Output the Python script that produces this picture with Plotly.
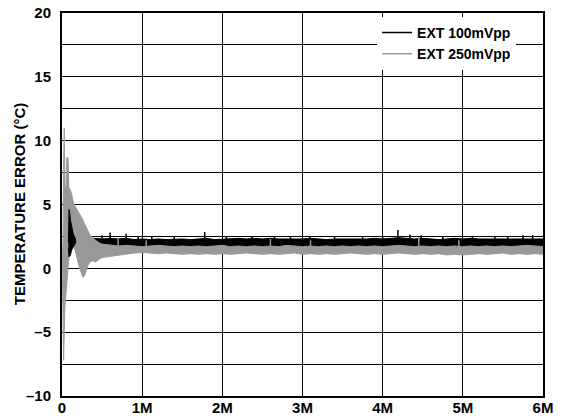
import plotly.graph_objects as go

# ---------------- data ----------------
# x in units of samples (M = 1e6)
x_ticks = [0, 1, 2, 3, 4, 5, 6]
x_tick_labels = ["0", "1M", "2M", "3M", "4M", "5M", "6M"]
y_ticks = [-10, -7.5, -5, -2.5, 0, 2.5, 5, 7.5, 10, 12.5, 15, 17.5, 20]
y_tick_labels = ["–10", "", "–5", "", "0", "", "5", "", "10", "", "15", "", "20"]

# EXT 250mVpp (gray) : envelope of the noisy trace
gray_x = [0.000, 0.012, 0.020, 0.028, 0.036, 0.048, 0.060, 0.075, 0.085, 0.10,
          0.12, 0.14, 0.16, 0.18, 0.20, 0.22, 0.24, 0.26, 0.28, 0.30,
          0.32, 0.35, 0.38, 0.42, 0.46, 0.50,
          0.6, 0.7, 0.8, 0.9, 1.0, 1.1, 1.2, 1.3, 1.4, 1.5,
          1.6, 1.7, 1.8, 1.9, 2.0, 2.1, 2.2, 2.3, 2.4, 2.5,
          2.6, 2.7, 2.8, 2.9, 3.0, 3.1, 3.2, 3.3, 3.4, 3.5,
          3.6, 3.7, 3.8, 3.9, 4.0, 4.1, 4.2, 4.3, 4.4, 4.5,
          4.6, 4.7, 4.8, 4.9, 5.0, 5.1, 5.2, 5.3, 5.4, 5.5,
          5.6, 5.7, 5.8, 5.9, 6.0]
gray_hi = [0.5, 2.0, 8.0, 11.0, 6.5, 6.0, 8.7, 8.6, 6.3, 6.2,
           5.8, 5.2, 4.9, 4.7, 4.5, 4.2, 4.0, 3.8, 3.5, 3.2,
           2.9, 2.6, 2.4, 2.2, 2.0, 1.9,
           1.8, 1.75, 1.8, 1.75, 1.7, 1.75, 1.8, 1.75, 1.7, 1.75,
           1.7, 1.75, 1.7, 1.75, 1.8, 1.7, 1.75, 1.7, 1.75, 1.7,
           1.75, 1.7, 1.8, 1.75, 1.7, 1.75, 1.7, 1.75, 1.7, 1.75,
           1.7, 1.75, 1.7, 1.75, 1.7, 1.75, 1.8, 1.75, 1.7, 1.75,
           1.7, 1.75, 1.7, 1.75, 1.7, 1.75, 1.7, 1.75, 1.7, 1.75,
           1.7, 1.75, 1.8, 1.75, 1.7]
gray_lo = [0.5, -3.0, -7.2, -5.0, -3.0, -2.0, -1.0, 0.0, 0.8, 1.5,
           2.0, 2.0, 1.6, 1.0, 0.5, 0.0, -0.4, -0.7, -0.6, -0.2,
           0.2, 0.5, 0.6, 0.5, 0.7, 0.85,
           0.95, 1.05, 1.1, 1.2, 1.25, 1.2, 1.15, 1.2, 1.15, 1.1,
           1.15, 1.1, 1.15, 1.1, 1.15, 1.1, 1.15, 1.2, 1.15, 1.1,
           1.15, 1.1, 1.15, 1.2, 1.1, 1.15, 1.1, 1.15, 1.1, 1.15,
           1.2, 1.15, 1.1, 1.15, 1.1, 1.15, 1.2, 1.15, 1.1, 1.15,
           1.1, 1.15, 1.05, 1.1, 1.05, 1.1, 1.15, 1.1, 1.15, 1.2,
           1.1, 1.15, 1.1, 1.15, 1.1]

# EXT 100mVpp (black) : start-up transient envelope
black_tr_x = [0.080, 0.088, 0.095, 0.105, 0.115, 0.125, 0.14, 0.16, 0.17]
black_tr_hi = [2.0, 4.6, 4.4, 3.8, 3.5, 3.0, 2.7, 2.4, 2.2]
black_tr_lo = [1.6, 0.9, 1.0, 1.0, 1.3, 1.5, 1.7, 1.9, 2.0]

# EXT 100mVpp (black) : settled band envelope
black_x = [0.35, 0.4, 0.5, 0.6, 0.7, 0.8, 0.9, 1.0, 1.1, 1.2, 1.3, 1.4, 1.5,
           1.6, 1.7, 1.8, 1.9, 2.0, 2.1, 2.2, 2.3, 2.4, 2.5,
           2.6, 2.7, 2.8, 2.9, 3.0, 3.1, 3.2, 3.3, 3.4, 3.5,
           3.6, 3.7, 3.8, 3.9, 4.0, 4.1, 4.2, 4.3, 4.4, 4.5,
           4.6, 4.7, 4.8, 4.9, 5.0, 5.1, 5.2, 5.3, 5.4, 5.5,
           5.6, 5.7, 5.8, 5.9, 6.0]
black_hi = [2.2, 2.35, 2.3, 2.35, 2.3, 2.35, 2.25, 2.3, 2.25, 2.3, 2.25, 2.3, 2.3,
            2.25, 2.3, 2.35, 2.25, 2.3, 2.3, 2.35, 2.3, 2.35, 2.3,
            2.35, 2.3, 2.3, 2.25, 2.3, 2.35, 2.3, 2.25, 2.3, 2.3,
            2.25, 2.3, 2.3, 2.35, 2.3, 2.35, 2.4, 2.35, 2.3, 2.35,
            2.3, 2.25, 2.3, 2.35, 2.3, 2.35, 2.3, 2.3, 2.35, 2.3,
            2.35, 2.3, 2.35, 2.35, 2.3]
black_lo = [1.6, 1.6, 1.65, 1.6, 1.65, 1.6, 1.65, 1.6, 1.65, 1.6, 1.65, 1.6, 1.65,
            1.6, 1.65, 1.6, 1.65, 1.6, 1.65, 1.6, 1.65, 1.6, 1.65,
            1.6, 1.65, 1.6, 1.65, 1.6, 1.65, 1.6, 1.65, 1.6, 1.65,
            1.6, 1.65, 1.6, 1.65, 1.6, 1.65, 1.6, 1.65, 1.6, 1.65,
            1.6, 1.65, 1.6, 1.65, 1.6, 1.65, 1.6, 1.65, 1.6, 1.65,
            1.6, 1.65, 1.6, 1.65, 1.6]

# black noise spikes (position, peak)
black_spike_x = [0.5, 0.6, 0.8, 0.95, 1.12, 1.4, 1.78, 2.05, 2.37, 2.65, 2.85,
                 3.09, 3.4, 3.75, 4.0, 4.19, 4.34, 4.48, 4.75, 5.12, 5.4, 5.56,
                 5.75, 5.87]
black_spike_y = [2.6, 2.8, 2.7, 2.5, 2.5, 2.45, 2.85, 2.5, 2.5, 2.5, 2.45,
                 2.5, 2.5, 2.45, 2.5, 3.0, 2.65, 2.6, 2.45, 2.55, 2.45, 2.5,
                 2.6, 2.6]
spike_base = 2.2

# gray noise spikes poking into the black band (position, peak)
gray_spike_x = [0.7, 1.05, 2.6, 3.1, 4.45, 4.95]
gray_spike_y = [2.3, 2.2, 2.3, 2.2, 2.45, 2.2]
gray_spike_base = 1.7

series_names = ["EXT 100mVpp", "EXT 250mVpp"]
BLACK = "#000000"
GRAY = "#999999"


def band(xs, hi, lo):
    return list(xs) + list(xs)[::-1], list(hi) + list(lo)[::-1]


def spikes(xs, ys, base):
    sx, sy = [], []
    for a, b in zip(xs, ys):
        sx += [a, a, None]
        sy += [base, b, None]
    return sx, sy


fig = go.Figure()

bx, by = band(black_x, black_hi, black_lo)
fig.add_trace(go.Scatter(x=bx, y=by, fill="toself", fillcolor=BLACK, mode="lines",
                         line=dict(color=BLACK, width=1), showlegend=False, hoverinfo="skip"))
sx, sy = spikes(black_spike_x, black_spike_y, spike_base)
fig.add_trace(go.Scatter(x=sx, y=sy, mode="lines", line=dict(color=BLACK, width=1.5),
                         showlegend=False, hoverinfo="skip"))

gx, gy = band(gray_x, gray_hi, gray_lo)
fig.add_trace(go.Scatter(x=gx, y=gy, fill="toself", fillcolor=GRAY, mode="lines",
                         line=dict(color=GRAY, width=1), showlegend=False, hoverinfo="skip"))
sx, sy = spikes(gray_spike_x, gray_spike_y, gray_spike_base)
fig.add_trace(go.Scatter(x=sx, y=sy, mode="lines", line=dict(color=GRAY, width=1.5),
                         showlegend=False, hoverinfo="skip"))

tx, ty = band(black_tr_x, black_tr_hi, black_tr_lo)
fig.add_trace(go.Scatter(x=tx, y=ty, fill="toself", fillcolor=BLACK, mode="lines",
                         line=dict(color=BLACK, width=1), showlegend=False, hoverinfo="skip"))

# legend entries
fig.add_trace(go.Scatter(x=[None], y=[None], mode="lines", name=series_names[0],
                         line=dict(color=BLACK, width=1.5)))
fig.add_trace(go.Scatter(x=[None], y=[None], mode="lines", name=series_names[1],
                         line=dict(color=GRAY, width=1.5)))

FONT = "Liberation Sans, Arial, Helvetica, sans-serif"

fig.update_layout(
    width=562, height=419,
    margin=dict(l=62, r=19, t=13, b=23, autoexpand=False),
    paper_bgcolor="white", plot_bgcolor="white",
    font=dict(family=FONT, color="black"),
    showlegend=True,
    legend=dict(x=0.655, y=0.99, xanchor="left", yanchor="top",
                bgcolor="white", borderwidth=0,
                font=dict(family=FONT, size=14, color="black", weight="bold"),
                itemwidth=30, tracegroupgap=0),
    xaxis=dict(range=[0, 6], tickvals=x_ticks, ticktext=x_tick_labels,
               showgrid=True, gridcolor="black", gridwidth=1,
               showline=True, linecolor="black", linewidth=2, mirror=True,
               zeroline=False, ticks="", ticklabelstandoff=-3, automargin=False,
               tickfont=dict(family=FONT, size=15, color="black", weight="bold")),
    yaxis=dict(range=[-10, 20], tickvals=y_ticks, ticktext=y_tick_labels,
               showgrid=True, gridcolor="black", gridwidth=1,
               showline=True, linecolor="black", linewidth=2, mirror=True,
               zeroline=False, ticks="", ticklabelstandoff=6, automargin=False,
               tickfont=dict(family=FONT, size=15, color="black", weight="bold")),
    annotations=[dict(text="TEMPERATURE ERROR (°C)", textangle=-90,
                      xref="paper", yref="paper", x=-0.088, y=0.5,
                      xanchor="center", yanchor="middle", showarrow=False,
                      font=dict(family=FONT, size=15, color="black", weight="bold"))],
)

fig.write_html("out.html",
               config={"displayModeBar": False, "staticPlot": True},
               post_script="document.body.style.margin='0';document.body.style.overflow='hidden';")
